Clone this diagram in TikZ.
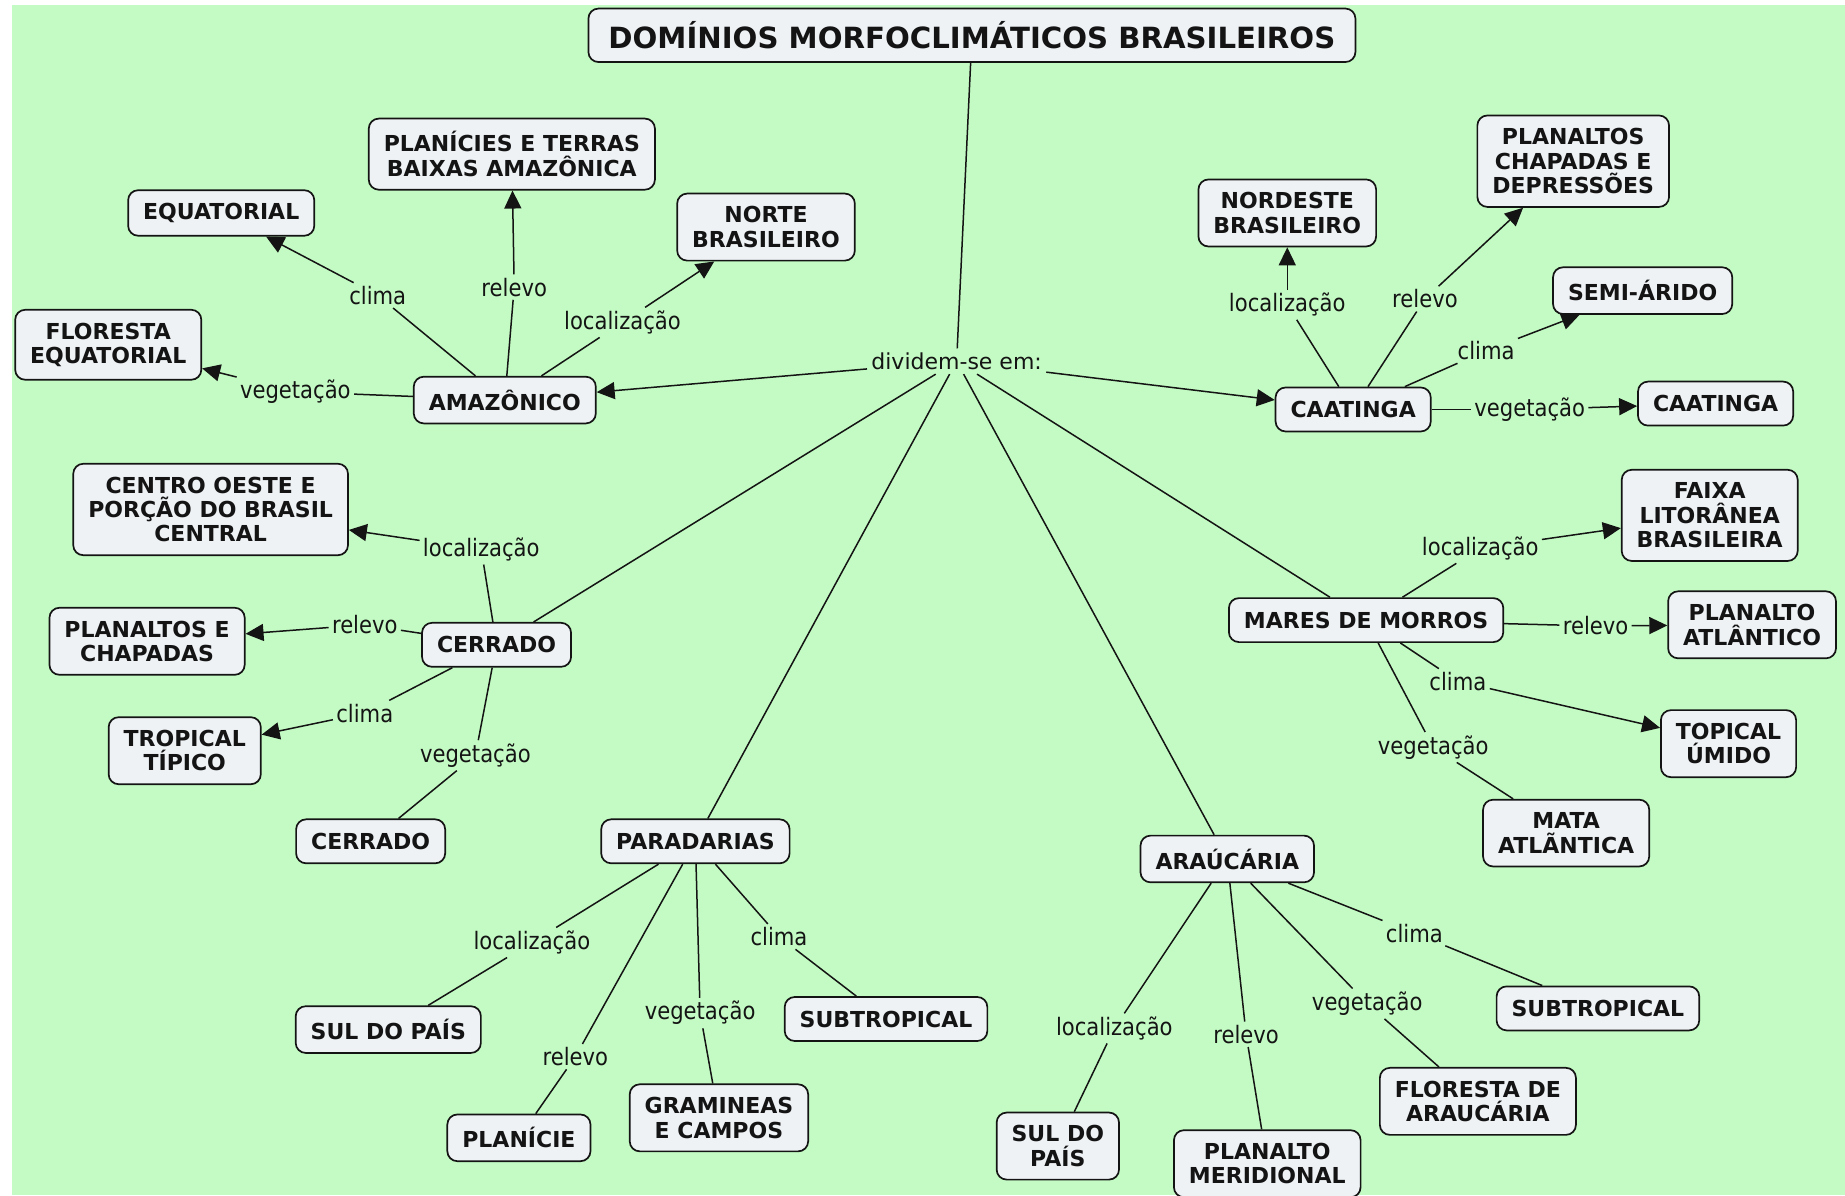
\documentclass[tikz,border=0pt]{standalone}
\usepackage{fontspec}
\setmainfont{DejaVu Sans}
\newfontfamily\lblfont[FakeStretch=0.88]{DejaVu Sans}
\usetikzlibrary{positioning,arrows.meta}

\definecolor{mapgreen}{RGB}{196,251,196}
\definecolor{boxfill}{RGB}{238,242,245}
\definecolor{ink}{RGB}{20,20,20}

\tikzset{
  concept/.style={draw=ink, line width=0.85pt, fill=boxfill, rounded corners=5pt,
    align=center, text=ink, font=\fontsize{11}{12.2}\selectfont\bfseries,
    inner xsep=7.5pt, inner ysep=6.5pt, minimum height=22pt},
  link/.style={font=\lblfont\fontsize{12}{13}\selectfont, text=ink, inner sep=1.5pt},
  edge/.style={draw=ink, line width=0.75pt},
  arrow/.style={edge, -{Triangle[length=9pt,width=8.5pt]}},
}

\begin{document}
\begin{tikzpicture}[x=0.5883pt, y=-0.5883pt]
    \useasboundingbox (0,0) rectangle (1568,1016);
    \fill[mapgreen] (10,4) rectangle (1568,1016);

    % Title
    \node[concept, font=\fontsize{14.6}{16}\selectfont\bfseries, inner xsep=10pt, minimum height=26.5pt] (title) at (826,30) {DOMÍNIOS MORFOCLIMÁTICOS BRASILEIROS};
    \node[font=\fontsize{11}{13}\selectfont, text=ink, inner sep=2pt] (div) at (813,307) {dividem-se em:};

    % Amazonico
    \node[concept] (amz) at (429,340) {AMAZÔNICO};
    \node[concept] (amzcl) at (188,181) {EQUATORIAL};
    \node[concept] (amzre) at (435,131) {PLANÍCIES E TERRAS\\BAIXAS AMAZÔNICA};
    \node[concept] (amzlo) at (651,193) {NORTE\\BRASILEIRO};
    \node[concept] (amzve) at (92,293) {FLORESTA\\EQUATORIAL};
    \node[link] (lamzcl) at (321,251) {clima};
    \node[link] (lamzre) at (437,244) {relevo};
    \node[link] (lamzlo) at (529,274) {localização};
    \node[link] (lamzve) at (251,333) {vegetação};

    % Caatinga
    \node[concept] (caa) at (1150,348) {CAATINGA};
    \node[concept] (caalo) at (1094,181) {NORDESTE\\BRASILEIRO};
    \node[concept] (caare) at (1337,137) {PLANALTOS\\CHAPADAS E\\DEPRESSÕES};
    \node[concept] (caacl) at (1396,247) {SEMI-ÁRIDO};
    \node[concept] (caave) at (1458,343) {CAATINGA};
    \node[link] (lcaalo) at (1094,259) {localização};
    \node[link] (lcaare) at (1211,254) {relevo};
    \node[link] (lcaacl) at (1263,298) {clima};
    \node[link] (lcaave) at (1300,348) {vegetação};

    % Cerrado
    \node[concept] (cer) at (422,548) {CERRADO};
    \node[concept] (cerlo) at (179,433) {CENTRO OESTE E\\PORÇÃO DO BRASIL\\CENTRAL};
    \node[concept] (cerre) at (125,545) {PLANALTOS E\\CHAPADAS};
    \node[concept] (cercl) at (157,638) {TROPICAL\\TÍPICO};
    \node[concept] (cerve) at (315,715) {CERRADO};
    \node[link] (lcerlo) at (409,467) {localização};
    \node[link] (lcerre) at (310,531) {relevo};
    \node[link] (lcercl) at (310,606) {clima};
    \node[link] (lcerve) at (404,642) {vegetação};

    % Mares de morros
    \node[concept] (mar) at (1161,527) {MARES DE MORROS};
    \node[concept] (marlo) at (1453,438) {FAIXA\\LITORÂNEA\\BRASILEIRA};
    \node[concept] (marre) at (1489,531) {PLANALTO\\ATLÂNTICO};
    \node[concept] (marcl) at (1469,632) {TOPICAL\\ÚMIDO};
    \node[concept] (marve) at (1331,708) {MATA\\ATLÃNTICA};
    \node[link] (lmarlo) at (1258,466) {localização};
    \node[link] (lmarre) at (1356,532) {relevo};
    \node[link] (lmarcl) at (1239,579) {clima};
    \node[link] (lmarve) at (1218,635) {vegetação};

    % Paradarias
    \node[concept] (par) at (591,715) {PARADARIAS};
    \node[concept] (parlo) at (330,875) {SUL DO PAÍS};
    \node[concept] (parre) at (441,967) {PLANÍCIE};
    \node[concept] (parve) at (611,950) {GRAMINEAS\\E CAMPOS};
    \node[concept] (parcl) at (753,866) {SUBTROPICAL};
    \node[link] (lparlo) at (452,801) {localização};
    \node[link] (lparre) at (489,898) {relevo};
    \node[link] (lparve) at (595,861) {vegetação};
    \node[link] (lparcl) at (662,796) {clima};

    % Araucaria
    \node[concept] (ara) at (1043,730) {ARAÚCÁRIA};
    \node[concept] (aralo) at (899,974) {SUL DO\\PAÍS};
    \node[concept] (arare) at (1077,989) {PLANALTO\\MERIDIONAL};
    \node[concept] (arave) at (1256,936) {FLORESTA DE\\ARAUCÁRIA};
    \node[concept] (aracl) at (1358,857) {SUBTROPICAL};
    \node[link] (laralo) at (947,874) {localização};
    \node[link] (larare) at (1059,879) {relevo};
    \node[link] (larave) at (1162,853) {vegetação};
    \node[link] (laracl) at (1202,793) {clima};

    % connectors
    \draw[edge] (title) -- (div);
    \draw[arrow] (div) -- (amz);
    \draw[arrow] (div) -- (caa);
    \foreach \p in {cer,mar,par,ara}
        \draw[edge] (div) -- (\p);
    \foreach \p in {amz,caa,cer,mar,par,ara}
        \foreach \k in {lo,re,cl,ve}
            \draw[edge] (\p) -- (l\p\k);
    \foreach \c in {amzlo,amzre,amzcl,amzve,caalo,caare,caacl,caave,cerlo,cerre,cercl,marlo,marre,marcl}
        \draw[arrow] (l\c) -- (\c);
    \foreach \c in {cerve,marve,parlo,parre,parcl,parve,aralo,arare,aracl,arave}
        \draw[edge] (l\c) -- (\c);
\end{tikzpicture}
\end{document}
